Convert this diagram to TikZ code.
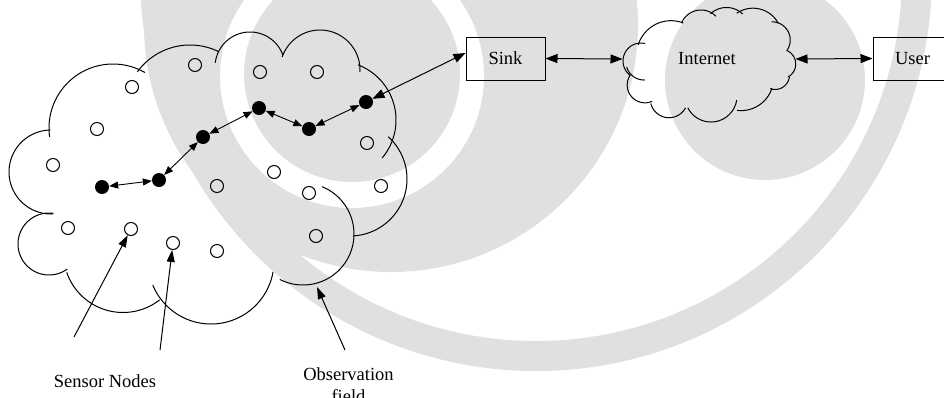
\documentclass[tikz,border=0pt]{standalone}
\usepackage{fontspec}
\setmainfont{Liberation Serif}
\usetikzlibrary{arrows.meta}

\definecolor{wmgrey}{RGB}{224,224,224}

% one puff of a cloud outline: centre x, centre y, radius, start angle, end angle
% (angles measured clockwise from +x, since the y axis points down)
\newcommand\puff[5]{%
  \draw[cloudline] plot[domain=#4:#5, samples=60] ({#1+#3*cos(\x)},{#2+#3*sin(\x)});}

\tikzset{
  cloudline/.style={line width=1pt},
  sensor/.style={circle, draw, line width=1pt, minimum size=13pt, inner sep=0pt},
  relay/.style={circle, fill=black, minimum size=14pt, inner sep=0pt},
  hop/.style={line width=0.9pt,
    {Triangle[length=9pt,width=7pt]}-{Triangle[length=9pt,width=7pt]}},
  link/.style={line width=1pt,
    {Triangle[length=12pt,width=9pt]}-{Triangle[length=12pt,width=9pt]}},
  pointer/.style={line width=1pt, -{Triangle[length=12pt,width=8pt]}},
  lbl/.style={font=\fontsize{18.5}{22}\selectfont, inner sep=0pt},
  box/.style={draw, line width=1pt, minimum width=79pt, minimum height=43pt,
    inner sep=0pt, font=\fontsize{18.5}{22}\selectfont},
}

\begin{document}
\begin{tikzpicture}[x=1pt, y=-1pt]
\useasboundingbox (0,0) rectangle (944,397);
\clip (0,0) rectangle (944,397);

% ---- faint background emblem ----
\fill[wmgrey, even odd rule] (536,-25) circle[radius=396pt] (536,-25) circle[radius=366pt];
\fill[wmgrey, even odd rule] (391,25) circle[radius=247pt] (352,76) circle[radius=132pt];
\fill[wmgrey] (352,74) circle[radius=108pt];
\fill[wmgrey] (765,80) circle[radius=100pt];

% ---- observation field (sensor cloud) ----
\puff{51}{172}{42}{87}{269}
\puff{113}{128}{64}{-188}{-60}
\puff{190}{110}{65}{-144}{-64}
\puff{250}{67}{35}{-173}{-20}
\puff{320}{70}{40}{-161}{3}
\puff{337}{120}{59}{-69}{40}
\puff{350}{179}{57}{-48}{87}
\puff{303}{234}{51}{-68}{117}
\puff{211}{261}{63}{10}{157.5}
\puff{123}{253}{59.5}{52}{161}
\puff{49}{244}{31}{54}{278}

% ---- internet cloud ----
\puff{671}{55}{34.3}{-163}{-69}
\puff{701}{31}{21}{-158}{-45}
\puff{726.5}{31}{23.5}{-133}{-46.5}
\puff{753}{37}{28.8}{-124.5}{-28.4}
\puff{772}{40}{18.2}{-91}{34}
\puff{781}{64}{14.7}{-68}{62}
\puff{775}{75}{14.5}{8}{110}
\puff{741}{78}{32.6}{18}{97}
\puff{711}{96}{26}{9}{153}
\puff{669}{99}{18.7}{28}{166}
\puff{645}{85}{17.8}{66}{214}
\puff{644}{62}{18}{87}{164}
\puff{641}{61}{18}{128}{283}

% ---- sensor nodes ----
\node[sensor] (s1)  at (195,65)  {};
\node[sensor] (s2)  at (132,87)  {};
\node[sensor] (s3)  at (97,129)  {};
\node[sensor] (s4)  at (53,165)  {};
\node[sensor] (s5)  at (260,72)  {};
\node[sensor] (s6)  at (317,72)  {};
\node[sensor] (s7)  at (367,143) {};
\node[sensor] (s8)  at (274,172) {};
\node[sensor] (s9)  at (217,186) {};
\node[sensor] (s10) at (309,193) {};
\node[sensor] (s11) at (381,186) {};
\node[sensor] (s12) at (68,228)  {};
\node[sensor] (s13) at (131,229) {};
\node[sensor] (s14) at (173,243) {};
\node[sensor] (s15) at (217,251) {};
\node[sensor] (s16) at (316,236) {};

% ---- relaying path ----
\node[relay] (r1) at (102,187) {};
\node[relay] (r2) at (159,180) {};
\node[relay] (r3) at (203,137) {};
\node[relay] (r4) at (259,108) {};
\node[relay] (r5) at (309,129) {};
\node[relay] (r6) at (366,102) {};
\draw[hop] (r1) -- (r2);
\draw[hop] (r2) -- (r3);
\draw[hop] (r3) -- (r4);
\draw[hop] (r4) -- (r5);
\draw[hop] (r5) -- (r6);

% ---- sink, internet, user ----
\node[box] (sink) at (505.5,58.5) {Sink};
\node[lbl] (inet) at (707,59) {Internet};
\coordinate (inetW) at (622.5,59);
\coordinate (inetE) at (795.5,59);
\node[box] (user) at (912.5,58.5) {User};

\draw[link] (r6) -- ([yshift=5.5pt]sink.west);
\draw[link] (sink.east) -- (inetW);
\draw[link] (inetE) -- (user.west);

% ---- labels ----
\node[lbl, anchor=base] (sn)   at (105,387)   {Sensor Nodes};
\node[lbl, anchor=base] (obs)  at (348.5,380.5) {Observation};
\node[lbl, anchor=base] (obs2) at (348.5,402) {field};

\coordinate (snTailA) at (74,337);
\coordinate (snTailB) at (160,350);
\coordinate (obsTail) at (345,350);
\coordinate (obsTip)  at (317,287);
\draw[pointer] (snTailA) -- (s13);
\draw[pointer] (snTailB) -- (s14);
\draw[pointer] (obsTail) -- (obsTip);
\end{tikzpicture}
\end{document}
